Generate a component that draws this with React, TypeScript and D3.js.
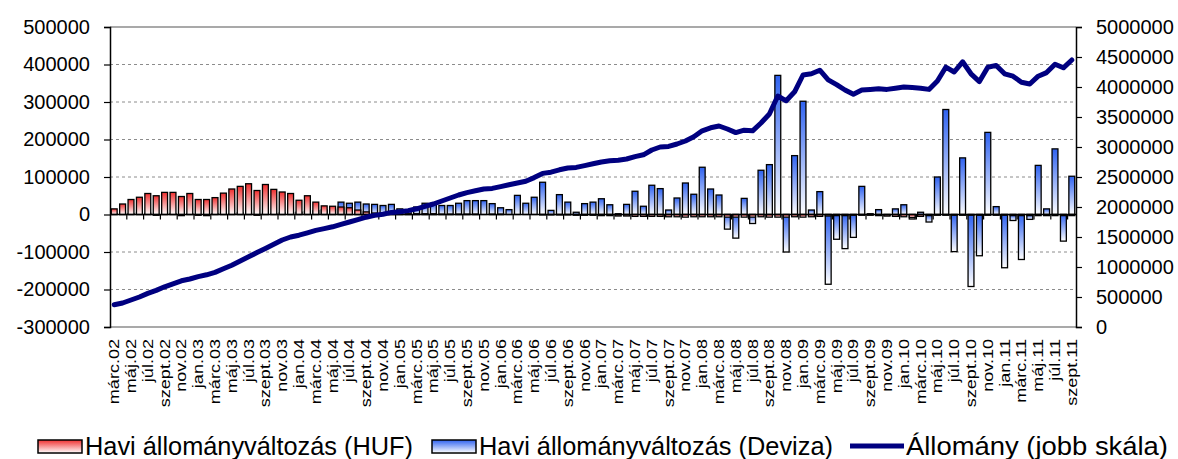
import React, { useRef, useEffect } from "react";
import * as d3 from "d3";

// Hungarian month abbreviations, series start in March 2002
const monthNames = ["jan.", "febr.", "márc.", "ápr.", "máj.", "jún.", "júl.", "aug.", "szept.", "okt.", "nov.", "dec."];
const categories: string[] = [];
for (let k = 2; k < 2 + 115; k++) {
  const yy = String(2 + Math.floor(k / 12)).padStart(2, "0");
  categories.push(monthNames[k % 12] + yy);
}

// Havi állományváltozás (HUF), thousand
const hufChange = [
  15, 28, 40, 46, 56, 50, 59, 59, 48, 56,
  40, 40, 45, 57, 68, 75, 82, 64, 80, 67,
  60, 56, 38, 50, 33, 23, 22, 20, 18, 12,
  7, 4, 3, 3, 3, 2, 2, 2, 2, 1,
  1, 1, 1, 1, 0, 1, 1, 0, 0, 0,
  0, -1, -1, -1, -1, -2, -2, -2, -3, -3,
  -4, -4, -5, -5, -5, -5, -6, -6, -7, -6,
  -6, -6, -6, -7, -7, -7, -7, -6, -7, -7,
  -7, -6, -7, -6, -5, -4, -3, -3, -2, -2,
  -2, -3, -4, -5, -6, -8, -5, -3, -2, -2,
  -2, -2, -2, -2, -2, -2, -2, -3, -3, -3,
  -3, -3, -3, -3, -3,
];

// Havi állományváltozás (Deviza), thousand
const devizaChange = [
  2, 3, 2, 4, 3, -2, 3, 2, -3, 2,
  -2, -3, 2, 3, 2, 4, 3, -2, 3, 2,
  4, 5, 6, 8, 10, 12, 14, 33, 30, 33,
  28, 27, 24, 27, 15, 12, 20, 30, 30, 24,
  24, 30, 37, 37, 37, 29, 18, 13, 51, 30,
  46, 86, 11, 53, 33, 6, 29, 33, 42, 26,
  2, 27, 62, 22, 78, 69, 12, 44, 84, 54,
  126, 68, 52, -39, -63, 43, -24, 118, 133, 371,
  -100, 157, 302, 12, 61, -186, -66, -91, -61, 75,
  2, 13, -3, 15, 26, -12, 6, -20, 100, 280,
  -99, 151, -192, -110, 219, 21, -142, -16, -120, -13,
  131, 15, 175, -71, 102,
];

// Állomány (jobb skála), million
const allomany = [
  0.37, 0.40, 0.45, 0.50, 0.56, 0.61, 0.67, 0.72, 0.77, 0.80,
  0.84, 0.87, 0.91, 0.97, 1.03, 1.10, 1.17, 1.24, 1.31, 1.38,
  1.45, 1.50, 1.53, 1.57, 1.61, 1.64, 1.67, 1.71, 1.75, 1.79,
  1.83, 1.86, 1.88, 1.91, 1.92, 1.94, 1.97, 2.01, 2.05, 2.10,
  2.15, 2.20, 2.24, 2.27, 2.30, 2.31, 2.34, 2.37, 2.40, 2.43,
  2.49, 2.56, 2.58, 2.62, 2.65, 2.66, 2.69, 2.72, 2.75, 2.77,
  2.78, 2.80, 2.84, 2.87, 2.95, 3.00, 3.01, 3.05, 3.10, 3.17,
  3.27, 3.32, 3.35, 3.30, 3.24, 3.28, 3.27, 3.40, 3.55, 3.85,
  3.77, 3.92, 4.20, 4.22, 4.28, 4.12, 4.04, 3.95, 3.88, 3.95,
  3.96, 3.97, 3.96, 3.98, 4.00, 3.99, 3.98, 3.96, 4.10, 4.33,
  4.25, 4.42, 4.22, 4.09, 4.33, 4.36, 4.22, 4.18, 4.08, 4.05,
  4.18, 4.24, 4.38, 4.32, 4.45,
];

const leftTicks = [-300000, -200000, -100000, 0, 100000, 200000, 300000, 400000, 500000];
const rightTicks = [0, 500000, 1000000, 1500000, 2000000, 2500000, 3000000, 3500000, 4000000, 4500000, 5000000];

const legendItems = [
  { label: "Havi állományváltozás (HUF)", kind: "huf", x: 38, len: 328 },
  { label: "Havi állományváltozás (Deviza)", kind: "dev", x: 432, len: 354 },
  { label: "Állomány (jobb skála)", kind: "line", x: 850, len: 262 },
];

export default function App() {
  const ref = useRef<SVGSVGElement>(null);
  const width = 1178;
  const height = 459;

  useEffect(() => {
    const svg = d3.select(ref.current);
    svg.selectAll("*").remove();

    const font = "Liberation Sans, Arial, sans-serif";
    const left = 110, right = 1076, top = 27, bottom = 327;

    const defs = svg.append("defs");
    const grad = (id: string, color: string) => {
      const g = defs.append("linearGradient").attr("id", id)
        .attr("x1", 0).attr("y1", 0).attr("x2", 0).attr("y2", 1);
      g.append("stop").attr("offset", "0%").attr("stop-color", color);
      g.append("stop").attr("offset", "100%").attr("stop-color", "#ffffff");
    };
    grad("gHuf", "#f03030");
    grad("gDev", "#2f62f0");

    const x = d3.scaleBand<string>().domain(categories).range([left, right])
      .paddingInner(0.3).paddingOuter(0.15);
    const yL = d3.scaleLinear().domain([-300000, 500000]).range([bottom, top]);
    const yR = d3.scaleLinear().domain([0, 5000000]).range([bottom, top]);
    const bw = x.bandwidth();

    // gridlines
    svg.append("g").selectAll("line")
      .data(leftTicks.filter(t => t !== 0 && t !== 500000 && t !== -300000))
      .join("line")
      .attr("x1", left).attr("x2", right)
      .attr("y1", d => yL(d)).attr("y2", d => yL(d))
      .attr("stroke", "#8c8c8c").attr("stroke-dasharray", "3,3").attr("stroke-width", 1);

    // plot frame top/bottom
    [top, bottom].forEach(yy => {
      svg.append("line").attr("x1", left).attr("x2", right).attr("y1", yy).attr("y2", yy)
        .attr("stroke", "#8c8c8c").attr("stroke-width", 1.5);
    });

    const bars = (vals: number[], fill: string) => {
      svg.append("g").selectAll("rect").data(vals).join("rect")
        .attr("x", (_, i) => x(categories[i])!)
        .attr("width", bw)
        .attr("y", d => yL(Math.max(0, d * 1000)))
        .attr("height", d => Math.abs(yL(0) - yL(d * 1000)))
        .attr("fill", `url(#${fill})`)
        .attr("stroke", "#000").attr("stroke-width", 1.3);
    };
    bars(devizaChange, "gDev");
    bars(hufChange, "gHuf");

    // zero axis with ticks every two months
    const z = yL(0);
    svg.append("line").attr("x1", left).attr("x2", right).attr("y1", z).attr("y2", z)
      .attr("stroke", "#000").attr("stroke-width", 1.5);
    const tickIdx = d3.range(2, categories.length, 2);
    svg.append("g").selectAll("line").data(tickIdx).join("line")
      .attr("x1", i => x(categories[i])! - x.step() * x.paddingInner() / 2)
      .attr("x2", i => x(categories[i])! - x.step() * x.paddingInner() / 2)
      .attr("y1", z).attr("y2", z + 5)
      .attr("stroke", "#000").attr("stroke-width", 1.2);

    // line on right scale
    const line = d3.line<number>()
      .x((_, i) => x(categories[i])! + bw / 2)
      .y(d => yR(d * 1000000));
    svg.append("path").datum(allomany)
      .attr("fill", "none").attr("stroke", "#000080").attr("stroke-width", 5)
      .attr("stroke-linejoin", "round").attr("stroke-linecap", "round")
      .attr("d", line);

    // axes
    const ax = svg.append("g").attr("transform", `translate(${left},0)`)
      .call(d3.axisLeft(yL).tickValues(leftTicks).tickSize(6).tickPadding(14).tickFormat(d => String(d)));
    const ay = svg.append("g").attr("transform", `translate(${right},0)`)
      .call(d3.axisRight(yR).tickValues(rightTicks).tickSize(6).tickPadding(14).tickFormat(d => String(d)));
    [ax, ay].forEach(g => {
      g.attr("font-family", font).attr("font-size", 20);
      g.select(".domain").attr("stroke", "#000").attr("stroke-width", 1.5);
      g.selectAll(".tick line").attr("stroke", "#000").attr("stroke-width", 1.2);
      g.selectAll(".tick text").attr("fill", "#000");
    });

    // month labels
    svg.append("g").selectAll("text")
      .data(d3.range(0, categories.length, 2))
      .join("text")
      .attr("transform", i => `translate(${x(categories[i])! + bw / 2},339) rotate(-90) scale(1.29,1)`)
      .attr("text-anchor", "end").attr("dy", "0.35em")
      .attr("font-family", font).attr("font-size", 14).attr("fill", "#000")
      .text(i => categories[i]);

    // legend
    const lg = svg.append("g");
    legendItems.forEach(it => {
      if (it.kind === "line") {
        lg.append("line").attr("x1", it.x).attr("x2", it.x + 54).attr("y1", 446).attr("y2", 446)
          .attr("stroke", "#000080").attr("stroke-width", 5);
      } else {
        lg.append("rect").attr("x", it.x).attr("y", 440).attr("width", 44).attr("height", 13)
          .attr("fill", it.kind === "huf" ? "url(#gHuf)" : "url(#gDev)")
          .attr("stroke", "#000").attr("stroke-width", 1.5);
      }
      lg.append("text").attr("x", it.kind === "line" ? it.x + 56 : it.x + 47).attr("y", 455)
        .attr("textLength", it.len).attr("lengthAdjust", "spacingAndGlyphs")
        .attr("font-family", font).attr("font-size", 25).attr("fill", "#000").text(it.label);
    });
  }, []);

  return (
    <svg ref={ref} width={width} height={height}
      style={{ position: "absolute", left: 0, top: 0, background: "#fff", display: "block" }} />
  );
}
